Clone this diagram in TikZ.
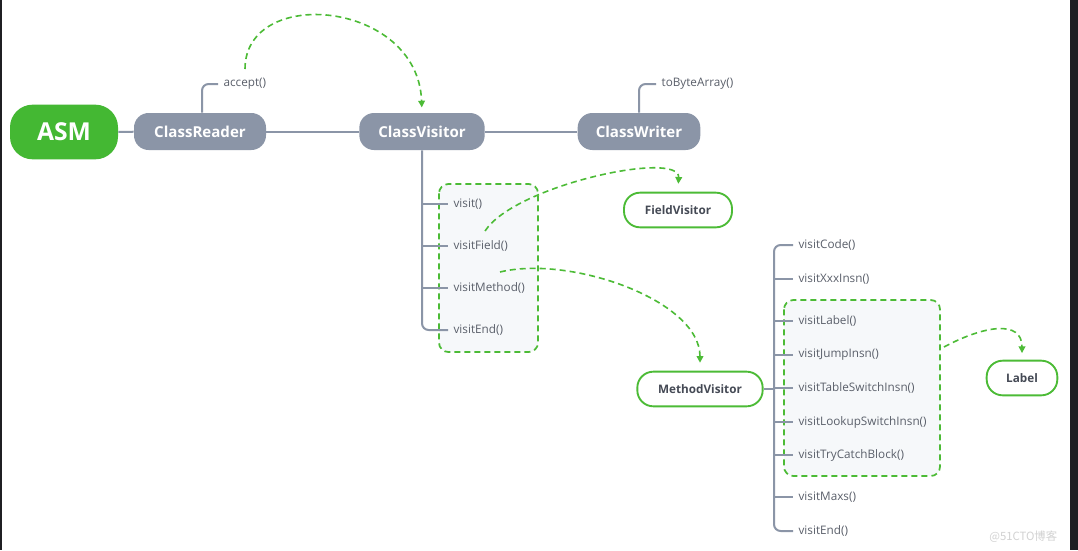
\documentclass[tikz,border=0pt]{standalone}
\usepackage{fontspec}
\setmainfont{Open Sans}
\newfontfamily\cjk{Noto Sans CJK SC}
\usetikzlibrary{arrows.meta}
\definecolor{asmgreen}{HTML}{44B833}
\definecolor{nodegrey}{HTML}{8B95A7}
\definecolor{linegrey}{HTML}{8B95A7}
\definecolor{dashgreen}{HTML}{4CBB36}
\definecolor{labtext}{HTML}{5A5F6A}
\definecolor{nodetext}{HTML}{454A55}
\definecolor{boxfill}{HTML}{F6F8FA}
\definecolor{darkstrip}{HTML}{1F1F23}
\definecolor{wmark}{HTML}{D2D2D2}
\tikzset{
  rootnode/.style={fill=asmgreen, text=white, rounded corners=17pt, minimum width=81pt, minimum height=41pt, font=\bfseries\fontsize{18.5}{20}\selectfont, inner sep=0pt},
  greynode/.style={fill=nodegrey, text=white, rounded corners=11pt, minimum height=27.75pt, font=\bfseries\fontsize{11.3}{13}\selectfont, inner sep=0pt},
  outnode/.style={draw=dashgreen, line width=1.4pt, fill=white, text=nodetext, rounded corners=12pt, minimum height=26pt, font=\bfseries\fontsize{8.8}{10}\selectfont, inner sep=0pt},
  meth/.style={anchor=west, text=labtext, font=\fontsize{8.8}{10}\selectfont, inner xsep=4pt, inner ysep=0pt},
  br/.style={draw=linegrey, line width=1.5pt, rounded corners=5pt},
  grp/.style={draw=dashgreen, line width=1.3pt, dash pattern=on 4.5pt off 3pt, fill=boxfill, rounded corners=7pt},
  flow/.style={draw=dashgreen, line width=1.2pt, dash pattern=on 4.5pt off 3pt, -{Triangle[length=5pt,width=5pt]}}
}
\begin{document}
\begin{tikzpicture}[x=0.75pt,y=-0.75pt]
\useasboundingbox (0,0) rectangle (1078,550);
\fill[white] (0,0) rectangle (1078,550);
\fill[darkstrip] (0,0) rectangle (2,550);
\fill[darkstrip] (1070,0) rectangle (1078,550);

% group boxes
\path[grp] (439,184) rectangle (538,352);
\path[grp] (784,300) rectangle (940,476);

% main nodes
\node[rootnode] (asm) at (64,132) {ASM};
\node[greynode, minimum width=99pt] (cr) at (200,131.5) {ClassReader};
\node[greynode, minimum width=94pt] (cv) at (422,131.5) {ClassVisitor};
\node[greynode, minimum width=92pt] (cw) at (639,131.5) {ClassWriter};
\node[outnode, minimum width=81pt] (fv) at (678,210) {FieldVisitor};
\node[outnode, minimum width=94pt] (mv) at (700,389) {MethodVisitor};
\node[outnode, minimum width=53pt] (lb) at (1022,378) {Label};

% main line
\draw[br] (asm) -- (cr);
\draw[br] (cr) -- (cv);
\draw[br] (cv) -- (cw);

% accept / toByteArray
\node[meth] (acc) at (218,84) {accept()};
\node[meth] (tba) at (656,84) {toByteArray()};
\draw[br] (cr.north -| 202,0) |- (acc.west);
\draw[br] (cw.north) |- (tba.west);

% ClassVisitor methods
\node[meth] (v1) at (448,204) {visit()};
\node[meth] (v2) at (448,246) {visitField()};
\node[meth] (v3) at (448,288) {visitMethod()};
\node[meth] (v4) at (448,330) {visitEnd()};
\draw[br] (cv.south) |- (v4.west);
\draw[br] (cv.south |- v1.west) -- (v1.west);
\draw[br] (cv.south |- v2.west) -- (v2.west);
\draw[br] (cv.south |- v3.west) -- (v3.west);

% MethodVisitor methods
\coordinate (trunk) at (774,389);
\node[meth] (m1) at (793,245) {visitCode()};
\node[meth] (m2) at (793,279) {visitXxxInsn()};
\node[meth] (m3) at (793,321) {visitLabel()};
\node[meth] (m4) at (793,355) {visitJumpInsn()};
\node[meth] (m5) at (793,388) {visitTableSwitchInsn()};
\node[meth] (m6) at (793,422) {visitLookupSwitchInsn()};
\node[meth] (m7) at (793,455) {visitTryCatchBlock()};
\node[meth] (m8) at (793,497) {visitMaxs()};
\node[meth] (m9) at (793,531) {visitEnd()};
\draw[br] (m1.west) -| (trunk) |- (m9.west);
\draw[br] (mv.east) -- (trunk);
\foreach \m in {m2,m3,m4,m5,m6,m7,m8}{
  \draw[br] (trunk |- \m.west) -- (\m.west);
}

% dashed flows
\coordinate (s1) at (245,69);
\coordinate (s2) at (485,231);
\coordinate (s3) at (500,272);
\coordinate (s4) at (944,347);
\draw[flow, shorten >=4pt] (s1) .. controls (245,-15) and (418,0) .. (cv.north);
\draw[flow, shorten >=6pt] (s2) .. controls (515,185) and (680,150) .. (fv.north);
\draw[flow, shorten >=6pt] (s3) .. controls (570,255) and (700,300) .. (mv.north);
\draw[flow, shorten >=5pt] (s4) .. controls (985,325) and (1022,320) .. (lb.north);

% watermark
\node[text=wmark, font=\cjk\fontsize{8.5}{10}\selectfont, anchor=west, inner sep=0pt] (wm) at (989,537) {@51CTO博客};
\end{tikzpicture}
\end{document}
